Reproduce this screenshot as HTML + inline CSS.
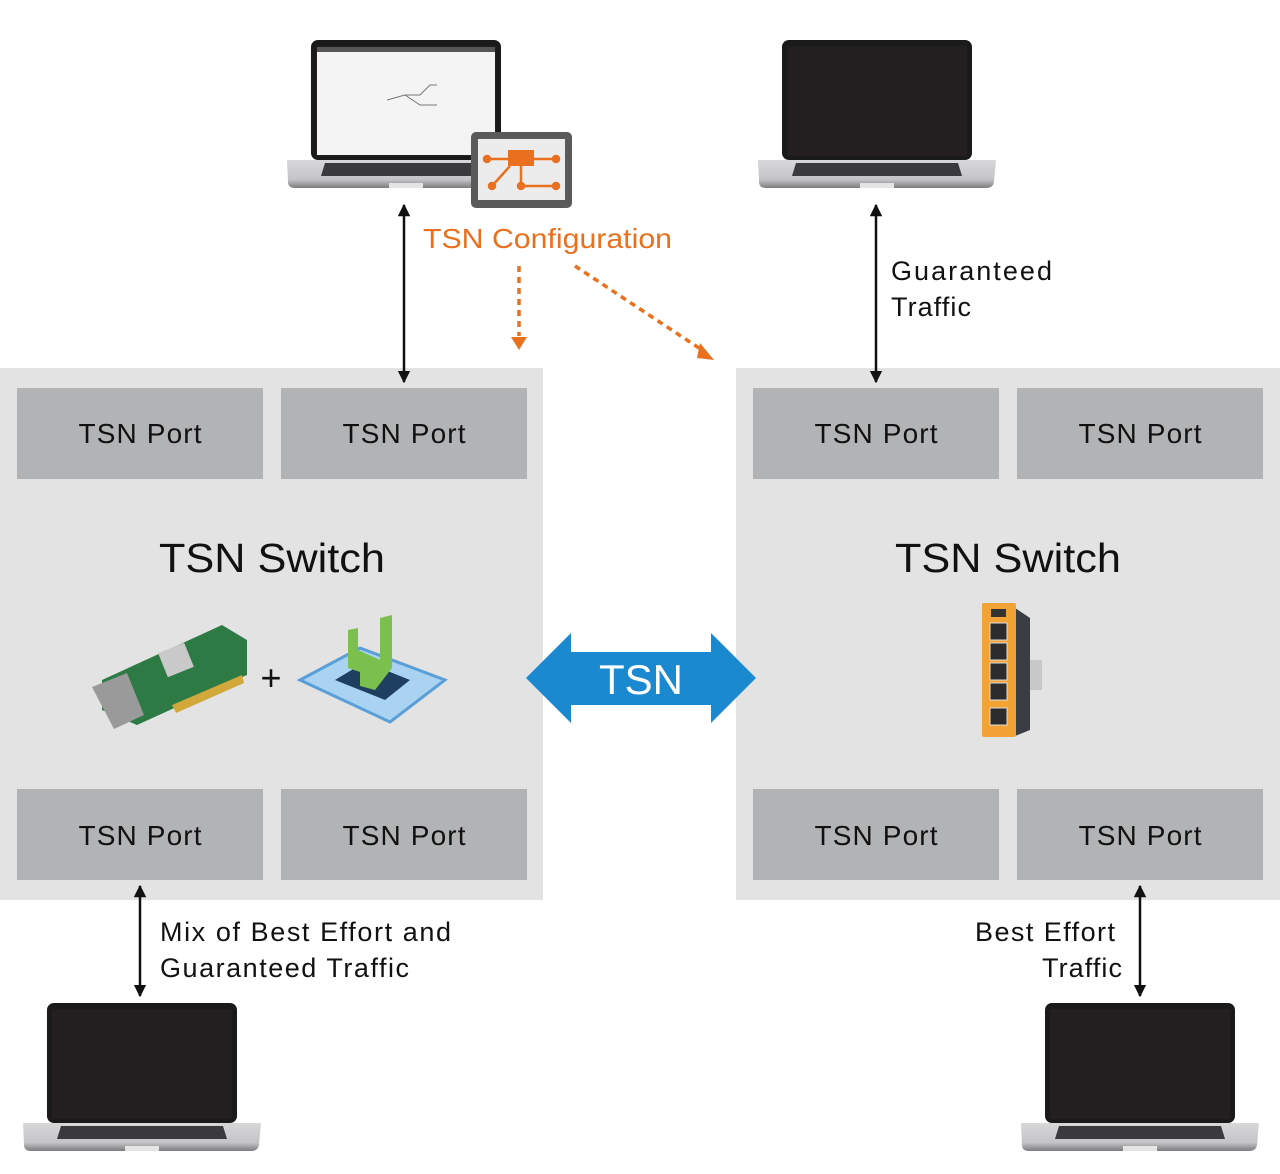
<!DOCTYPE html>
<html><head><meta charset="utf-8"><style>
html,body{margin:0;padding:0;background:#fff}
svg{display:block}
text{font-family:"Liberation Sans",sans-serif}
</style></head><body>
<svg width="1280" height="1174" viewBox="0 0 1280 1174" xmlns="http://www.w3.org/2000/svg">
<defs>
<linearGradient id="base" x1="0" y1="0" x2="0" y2="1">
<stop offset="0" stop-color="#d8d8da"/><stop offset="0.7" stop-color="#c4c4c6"/><stop offset="1" stop-color="#7c7c7e"/>
</linearGradient>
<g id="laptop">
<rect x="0" y="0" width="190" height="120" rx="7" fill="#1a1a1a"/>
<rect x="5" y="6" width="180" height="110" fill="#231f20"/>
<path d="M-24 120 L214 120 L212 142 Q211 148 204 148 L-16 148 Q-23 148 -23 142 Z" fill="url(#base)"/>
<path d="M14 123 L176 123 L180 136 L10 136 Z" fill="#3a3a3c"/>
<rect x="78" y="143" width="34" height="5" fill="#e4e4e4"/>
</g>
<marker id="ab" viewBox="0 0 10 10" refX="9" refY="5" markerWidth="5" markerHeight="5" orient="auto-start-reverse"><path d="M0 0 L10 5 L0 10 Z" fill="#111"/></marker>
</defs>

<rect x="0" y="368" width="543" height="532" fill="#e3e3e3"/>
<rect x="736" y="368" width="544" height="532" fill="#e3e3e3"/>
<g fill="#b2b3b5">
<rect x="17" y="388" width="246" height="91"/><rect x="281" y="388" width="246" height="91"/>
<rect x="17" y="789" width="246" height="91"/><rect x="281" y="789" width="246" height="91"/>
<rect x="753" y="388" width="246" height="91"/><rect x="1017" y="388" width="246" height="91"/>
<rect x="753" y="789" width="246" height="91"/><rect x="1017" y="789" width="246" height="91"/>
</g>
<g font-size="28" fill="#111" text-anchor="middle" lengthAdjust="spacingAndGlyphs">
<text x="140" y="443" textLength="123">TSN Port</text><text x="404" y="443" textLength="123">TSN Port</text>
<text x="140" y="845" textLength="123">TSN Port</text><text x="404" y="845" textLength="123">TSN Port</text>
<text x="876" y="443" textLength="123">TSN Port</text><text x="1140" y="443" textLength="123">TSN Port</text>
<text x="876" y="845" textLength="123">TSN Port</text><text x="1140" y="845" textLength="123">TSN Port</text>
</g>
<g font-size="41" fill="#111" text-anchor="middle">
<text x="272" y="572" textLength="226" lengthAdjust="spacingAndGlyphs">TSN Switch</text>
<text x="1008" y="572" textLength="226" lengthAdjust="spacingAndGlyphs">TSN Switch</text>
</g>

<g transform="translate(92,625)">
<path d="M10 55 L130 0 L155 15 L155 50 L45 100 L10 85 Z" fill="#2d7a45"/>
<rect x="70" y="22" width="28" height="26" fill="#c9c9c9" transform="rotate(-22 84 35)"/>
<path d="M0 62 L35 48 L52 90 L22 104 Z" fill="#9a9a9a"/>
<path d="M80 80 L150 50 L152 58 L84 88 Z" fill="#d2a83a"/>
</g>
<text x="271" y="690" font-size="36" fill="#111" text-anchor="middle">+</text>
<g>
<path d="M300 680 L360 648 L445 680 L390 722 Z" fill="#a9d3f0" stroke="#5b9fd8" stroke-width="3"/>
<path d="M335 680 L365 662 L410 680 L385 700 Z" fill="#1f3f60"/>
<path d="M348 630 L358 628 L358 650 L380 660 L380 618 L392 615 L392 668 L375 690 L360 686 L360 672 L348 668 Z" fill="#7bbf4e"/>
</g>

<g>
<path d="M1015 608 L1030 618 L1030 730 L1015 736 Z" fill="#3a3d44"/>
<rect x="1030" y="660" width="12" height="30" fill="#c8c8c8"/>
<rect x="982" y="603" width="34" height="134" rx="2" fill="#f3a336"/>
<g fill="#2c2c2c" stroke="#ddd" stroke-width="1">
<rect x="990" y="623" width="17" height="17"/><rect x="990" y="643" width="17" height="17"/>
<rect x="990" y="663" width="17" height="17"/><rect x="990" y="683" width="17" height="17"/>
<rect x="990" y="708" width="17" height="17"/>
</g>
<rect x="991" y="609" width="15" height="8" fill="#333"/>
</g>

<path d="M526 678 L571 633 L571 652 L711 652 L711 633 L756 678 L711 723 L711 705 L571 705 L571 723 Z" fill="#1a89cf"/>
<text x="641" y="694" font-size="42" fill="#fff" text-anchor="middle">TSN</text>

<use href="#laptop" transform="translate(311,40)"/>
<rect x="317" y="47" width="178" height="108" fill="#f4f4f4"/>
<rect x="317" y="47" width="178" height="5" fill="#555"/>
<g stroke="#777" fill="none" stroke-width="1"><path d="M387 100 L405 95 L420 95 L430 85 L437 85 M405 95 L420 105 L437 105"/></g>
<use href="#laptop" transform="translate(782,40)"/>
<use href="#laptop" transform="translate(47,1003)"/>
<use href="#laptop" transform="translate(1045,1003)"/>

<rect x="471" y="132" width="101" height="76" rx="5" fill="#5a5a5a"/>
<rect x="478" y="139" width="87" height="61" fill="#ececec"/>
<g stroke="#e8701e" stroke-width="2.5" fill="#e8701e">
<rect x="508" y="150" width="26" height="16" stroke="none"/>
<line x1="487" y1="159" x2="556" y2="159"/>
<line x1="521" y1="166" x2="521" y2="186"/><line x1="521" y1="186" x2="556" y2="186"/>
<line x1="510" y1="166" x2="492" y2="186"/>
<circle cx="487" cy="159" r="3"/><circle cx="556" cy="159" r="3"/><circle cx="492" cy="186" r="3"/><circle cx="521" cy="186" r="3"/><circle cx="556" cy="186" r="3"/>
</g>

<g stroke="#111" stroke-width="2.5" fill="none">
<line x1="404" y1="205" x2="404" y2="382" marker-start="url(#ab)" marker-end="url(#ab)"/>
<line x1="876" y1="205" x2="876" y2="382" marker-start="url(#ab)" marker-end="url(#ab)"/>
<line x1="140" y1="886" x2="140" y2="996" marker-start="url(#ab)" marker-end="url(#ab)"/>
<line x1="1140" y1="886" x2="1140" y2="996" marker-start="url(#ab)" marker-end="url(#ab)"/>
</g>
<text x="423" y="248" font-size="28" fill="#e8701e" textLength="249" lengthAdjust="spacingAndGlyphs">TSN Configuration</text>
<g stroke="#e8701e" stroke-width="3.5" stroke-dasharray="6 5" fill="none">
<line x1="519" y1="266" x2="519" y2="336"/>
<line x1="575" y1="266" x2="702" y2="350"/>
</g>
<path d="M511 337 L527 337 L519 350 Z" fill="#e8701e"/>
<path d="M700 343 L714 360 L697 358 Z" fill="#e8701e"/>

<g font-size="27" fill="#111" lengthAdjust="spacingAndGlyphs">
<text x="891" y="280" textLength="161">Guaranteed</text>
<text x="891" y="316" textLength="80">Traffic</text>
<text x="160" y="941" textLength="291">Mix of Best Effort and</text>
<text x="160" y="977" textLength="249">Guaranteed Traffic</text>
<text x="975" y="941" textLength="140">Best Effort</text>
<text x="1042" y="977" textLength="80">Traffic</text>
</g>
</svg>
</body></html>
